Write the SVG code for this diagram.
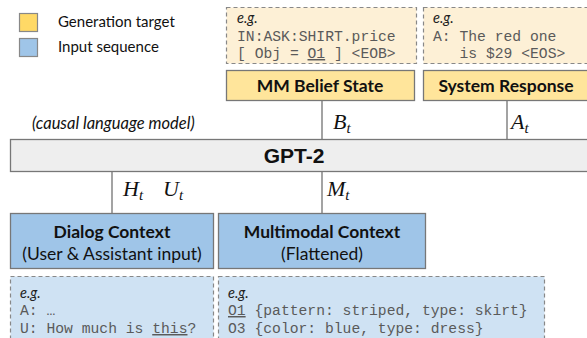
<svg xmlns="http://www.w3.org/2000/svg" width="587" height="338" viewBox="0 0 587 338">
<style>
.sans{font-family:Lato,"Noto Sans",sans-serif;fill:#111}
.title{font-family:Lato,"Noto Sans",sans-serif;font-weight:bold;font-size:17.5px;fill:#111;text-anchor:middle}
.sub{font-family:Lato,"Noto Sans",sans-serif;font-size:17.5px;fill:#111;text-anchor:middle}
.mono{font-family:"Liberation Mono",monospace;font-size:14.7px;fill:#5a5a5a}
.eg{font-family:Lato,"Noto Sans",sans-serif;font-style:italic;font-size:14.5px;fill:#222}
.math{font-family:"Liberation Serif",serif;font-style:italic;font-size:22px;fill:#111}
.subt{font-size:15px}
.yel{fill:#ffe59b;stroke:#777;stroke-width:1.3}
.blu{fill:#9fc5e8;stroke:#777;stroke-width:1.3}
.eyel{fill:#fdf0d6;stroke:#888;stroke-width:1.2;stroke-dasharray:4 3}
.eblu{fill:#cfe2f3;stroke:#888;stroke-width:1.2;stroke-dasharray:4 3}
.conn{stroke:#666;stroke-width:1.2;fill:none}
.u{text-decoration:underline}
</style>
<g id="legend">
<rect x="19.5" y="13.5" width="18" height="18" fill="#ffd966" stroke="#888" stroke-width="1.2"/>
<rect x="19.5" y="38.5" width="18" height="18" fill="#9fc5e8" stroke="#888" stroke-width="1.2"/>
<text class="sans" x="58" y="27" font-size="15">Generation target</text>
<text class="sans" x="58" y="52" font-size="15">Input sequence</text>
</g>
<g id="connectors">
<line class="conn" x1="322" y1="101" x2="322" y2="139"/>
<line class="conn" x1="507" y1="101" x2="507" y2="139"/>
<line class="conn" x1="112" y1="172" x2="112" y2="213"/>
<line class="conn" x1="322" y1="172" x2="322" y2="213"/>
</g>
<g id="ex-belief">
<rect class="eyel" x="226.5" y="7.5" width="190" height="56"/>
<text class="eg" x="237" y="23">e.g.</text>
<text class="mono" x="237" y="41">IN:ASK:SHIRT.price</text>
<text class="mono" x="237" y="58">[ Obj = <tspan class="u">O1</tspan> ] &lt;EOB&gt;</text>
</g>
<g id="ex-response">
<rect class="eyel" x="423.5" y="7.5" width="170" height="56"/>
<text class="eg" x="433" y="23">e.g.</text>
<text class="mono" x="433" y="41">A: The red one</text>
<text class="mono" x="459.5" y="58">is $29 &lt;EOS&gt;</text>
</g>
<g id="mm-belief-state">
<rect class="yel" x="226.5" y="70.5" width="188" height="30"/>
<text class="title" x="320" y="92">MM Belief State</text>
</g>
<g id="system-response">
<rect class="yel" x="423.5" y="70.5" width="170" height="30"/>
<text class="title" x="506" y="92">System Response</text>
</g>
<g id="labels-top">
<text class="math" x="333" y="129">B<tspan class="subt" dy="4">t</tspan></text>
<text class="math" x="511" y="129">A<tspan class="subt" dy="4">t</tspan></text>
</g>
<text class="sans" x="32" y="129" font-size="16.5" font-style="italic">(causal language model)</text>
<g id="gpt2">
<rect x="10.5" y="139.5" width="590" height="32" fill="#eeeeee" stroke="#777" stroke-width="1.3"/>
<text x="294" y="163" font-family="'Liberation Sans',Arial,sans-serif" font-weight="bold" font-size="21" text-anchor="middle" fill="#111">GPT-2</text>
</g>
<g id="labels-bottom">
<text class="math" x="123" y="196">H<tspan class="subt" dy="4">t</tspan></text>
<text class="math" x="163" y="196">U<tspan class="subt" dy="4">t</tspan></text>
<text class="math" x="327" y="196">M<tspan class="subt" dy="4">t</tspan></text>
</g>
<g id="dialog-context">
<rect class="blu" x="10.5" y="213.5" width="203" height="55"/>
<text class="title" x="112" y="238">Dialog Context</text>
<text class="sub" x="112" y="260">(User &amp; Assistant input)</text>
</g>
<g id="multimodal-context">
<rect class="blu" x="218.5" y="213.5" width="207" height="55"/>
<text class="title" x="322" y="238">Multimodal Context</text>
<text class="sub" x="322" y="260">(Flattened)</text>
</g>
<g id="ex-dialog">
<rect class="eblu" x="10.5" y="276.5" width="203" height="70"/>
<text class="eg" x="20" y="298">e.g.</text>
<text class="mono" x="20" y="315">A: …</text>
<text class="mono" x="20" y="333">U: How much is <tspan class="u">this</tspan>?</text>
</g>
<g id="ex-multimodal">
<rect class="eblu" x="218.5" y="276.5" width="326" height="70"/>
<text class="eg" x="228" y="298">e.g.</text>
<text class="mono" x="228" y="315"><tspan class="u">O1</tspan> {pattern: striped, type: skirt}</text>
<text class="mono" x="228" y="333">O3 {color: blue, type: dress}</text>
</g>
</svg>
